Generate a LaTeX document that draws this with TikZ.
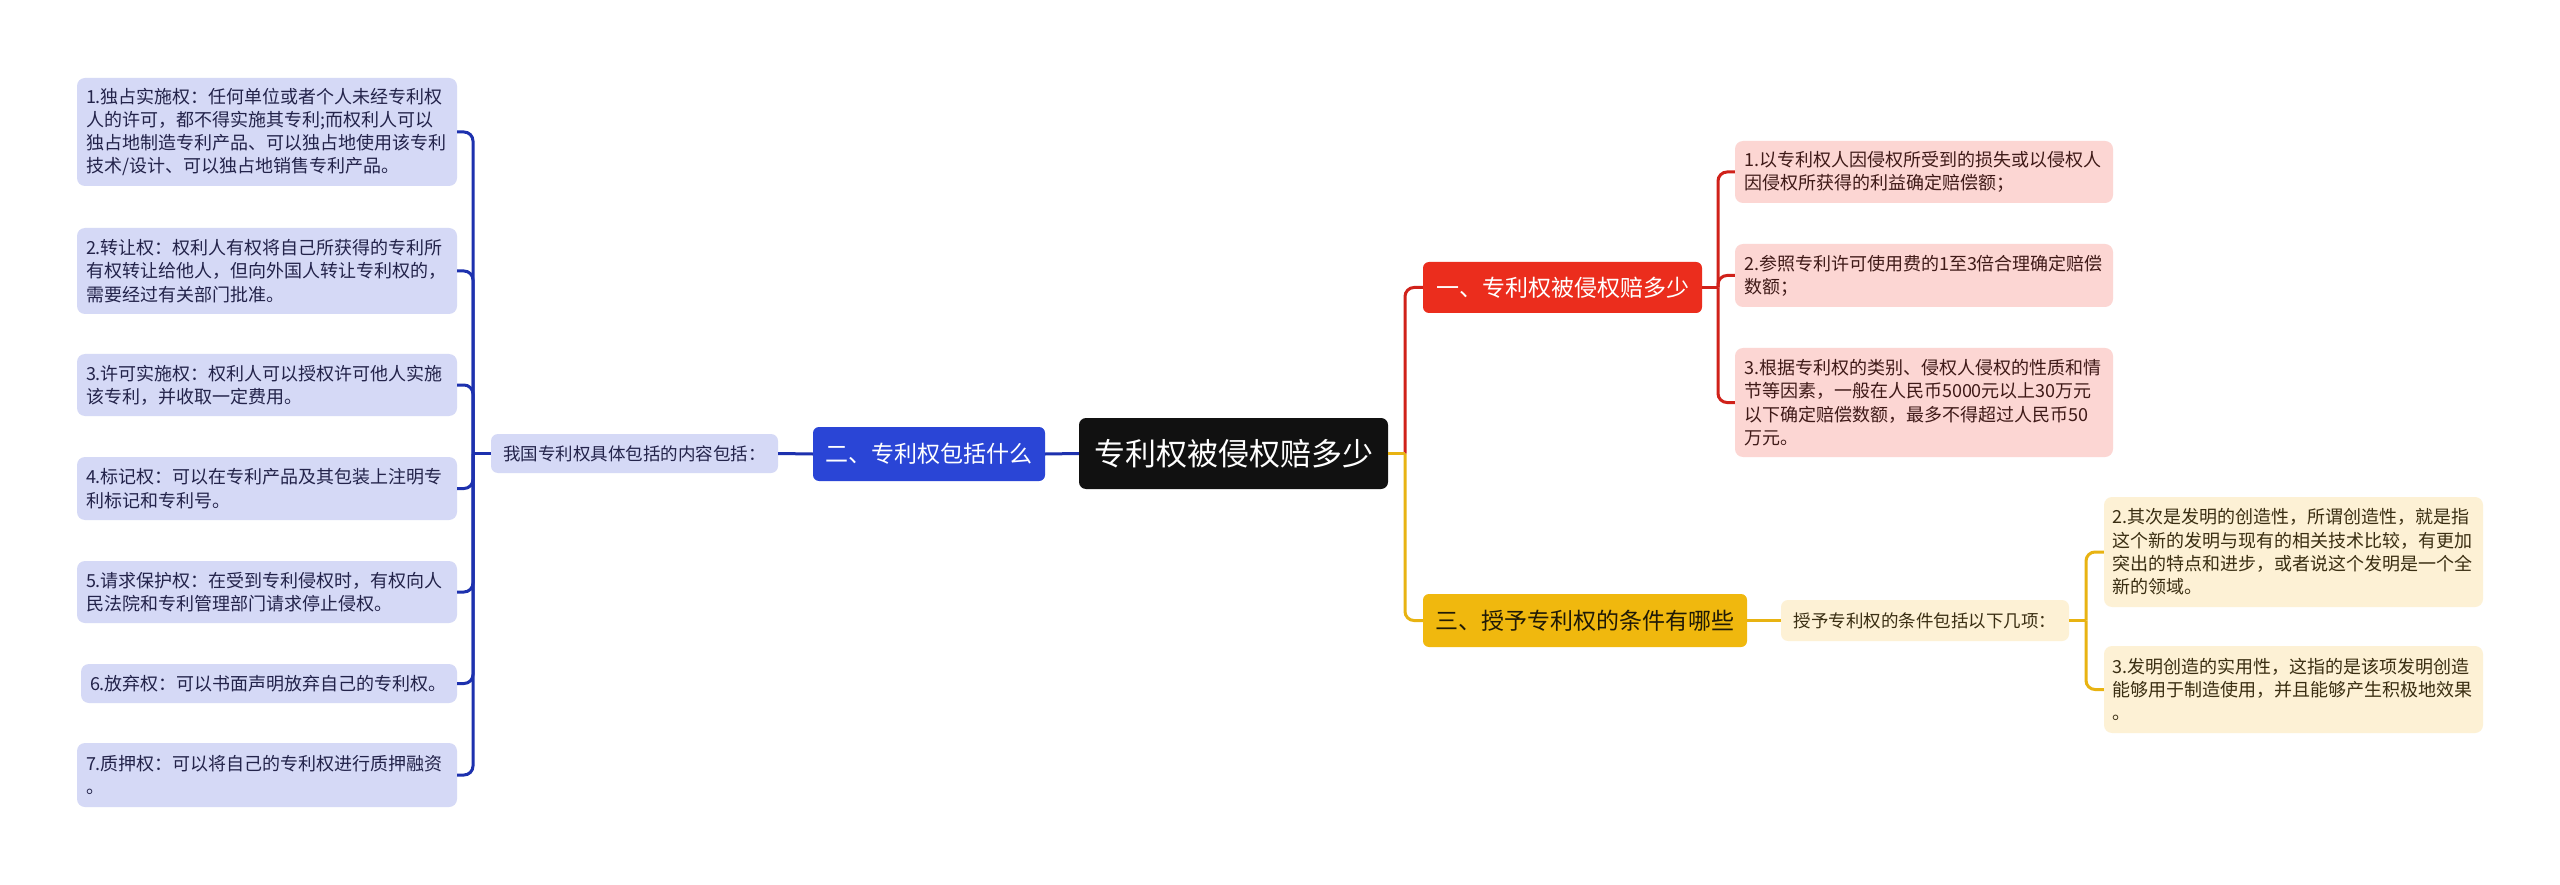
\documentclass[tikz,border=0pt]{standalone}
\usepackage{fontspec}
\setmainfont{Noto Sans CJK SC}
\definecolor{lavfill}{HTML}{D5D9F6}
\definecolor{lavtext}{HTML}{23234A}
\definecolor{pinkfill}{HTML}{FCD6D3}
\definecolor{pinktext}{HTML}{3F1A18}
\definecolor{creamfill}{HTML}{FDF1D5}
\definecolor{creamtext}{HTML}{3A2E12}
\definecolor{bluenode}{HTML}{2A45D6}
\definecolor{rednode}{HTML}{EB2D1D}
\definecolor{yelnode}{HTML}{F0B80E}
\definecolor{rootfill}{HTML}{111111}
\definecolor{blueline}{HTML}{1D31AE}
\definecolor{redline}{HTML}{D0211A}
\definecolor{yelline}{HTML}{E8B312}
\definecolor{yeltext}{HTML}{201A06}
\tikzset{
  leafbase/.style={draw=none, rounded corners=8pt, align=left, inner xsep=9pt, inner ysep=0pt,
    font=\fontsize{18}{23.3}\selectfont},
  leafL/.style={leafbase, fill=lavfill, text=lavtext},
  leafP/.style={leafbase, fill=pinkfill, text=pinktext},
  leafC/.style={leafbase, fill=creamfill, text=creamtext, inner xsep=8pt},
  midnode/.style={draw=none, rounded corners=7pt, inner sep=0pt, font=\fontsize{17.5}{21}\selectfont},
  topnode/.style={draw=none, rounded corners=6pt, inner sep=0pt, font=\fontsize{23}{27}\selectfont},
  rootnode/.style={draw=none, fill=rootfill, text=white, rounded corners=7pt, inner sep=0pt, font=\fontsize{31}{36}\selectfont},
  conn/.style={line width=3pt, rounded corners=9pt},
}
\begin{document}
\begin{tikzpicture}[x=1pt,y=-1pt]
\useasboundingbox[fill=white] (0,0) rectangle (2560,885);

% root and level 1
\node[rootnode, minimum width=309pt, minimum height=71pt] (root) at (1233.5,453.5) {专利权被侵权赔多少};
\node[topnode, fill=bluenode, text=white, minimum width=232pt, minimum height=54pt] (blue) at (929,454) {二、专利权包括什么};
\node[topnode, fill=rednode, text=white, minimum width=279pt, minimum height=51pt] (red) at (1562.5,287.5) {一、专利权被侵权赔多少};
\node[topnode, fill=yelnode, text=yeltext, minimum width=324pt, minimum height=53pt] (yel) at (1585,620.5) {三、授予专利权的条件有哪些};

% middle nodes
\node[midnode, fill=lavfill, text=lavtext, minimum width=287pt, minimum height=39pt] (mid) at (634.5,453.5) {我国专利权具体包括的内容包括：};
\node[midnode, fill=creamfill, text=creamtext, minimum width=288pt, minimum height=41pt] (mid2) at (1925,620.5) {授予专利权的条件包括以下几项：};

% left leaves
\node[leafL, text width=362pt, minimum height=108pt] (b1) at (267,132) {1.独占实施权：任何单位或者个人未经专利权\\人的许可，都不得实施其专利;而权利人可以\\独占地制造专利产品、可以独占地使用该专利\\技术/设计、可以独占地销售专利产品。};
\node[leafL, text width=362pt, minimum height=86pt] (b2) at (267,271) {2.转让权：权利人有权将自己所获得的专利所\\有权转让给他人，但向外国人转让专利权的，\\需要经过有关部门批准。};
\node[leafL, text width=362pt, minimum height=62pt] (b3) at (267,385) {3.许可实施权：权利人可以授权许可他人实施\\该专利，并收取一定费用。};
\node[leafL, text width=362pt, minimum height=63pt] (b4) at (267,488.5) {4.标记权：可以在专利产品及其包装上注明专\\利标记和专利号。};
\node[leafL, text width=362pt, minimum height=62pt] (b5) at (267,592) {5.请求保护权：在受到专利侵权时，有权向人\\民法院和专利管理部门请求停止侵权。};
\node[leafL, text width=358pt, minimum height=39pt] (b6) at (269,683.5) {6.放弃权：可以书面声明放弃自己的专利权。};
\node[leafL, text width=362pt, minimum height=64pt] (b7) at (267,775) {7.质押权：可以将自己的专利权进行质押融资\\。};

% pink leaves
\node[leafP, text width=360pt, minimum height=62pt] (p1) at (1924,172) {1.以专利权人因侵权所受到的损失或以侵权人\\因侵权所获得的利益确定赔偿额；};
\node[leafP, text width=360pt, minimum height=63pt] (p2) at (1924,275.5) {2.参照专利许可使用费的1至3倍合理确定赔偿\\数额；};
\node[leafP, text width=360pt, minimum height=109pt] (p3) at (1924,402.5) {3.根据专利权的类别、侵权人侵权的性质和情\\节等因素，一般在人民币5000元以上30万元\\以下确定赔偿数额，最多不得超过人民币50\\万元。};

% cream leaves
\node[leafC, text width=363pt, minimum height=110pt] (c1) at (2293.5,552) {2.其次是发明的创造性，所谓创造性，就是指\\这个新的发明与现有的相关技术比较，有更加\\突出的特点和进步，或者说这个发明是一个全\\新的领域。};
\node[leafC, text width=363pt, minimum height=87pt] (c2) at (2293.5,689.5) {3.发明创造的实用性，这指的是该项发明创造\\能够用于制造使用，并且能够产生积极地效果\\。};

% junction coordinates
\coordinate (lj) at (473,453.5);
\coordinate (rj) at (1405,453.5);
\coordinate (pj) at (1718,287.5);
\coordinate (cj) at (2086,620.5);

% blue connectors
\draw[conn, blueline] (root.west) -- (blue.east);
\draw[conn, blueline] (blue.west) -- (mid.east);
\draw[conn, blueline] (mid.west) -- (lj);
\foreach \b in {b1,b2,b3,b4,b5,b6,b7}{
  \draw[conn, blueline] (lj) |- (\b.east);
}

% red connectors
\draw[conn, redline] (rj) |- (red.west);
\draw[conn, redline] (red.east) -- (pj);
\foreach \p in {p1,p2,p3}{
  \draw[conn, redline] (pj) |- (\p.west);
}

% yellow connectors
\draw[conn, yelline] (rj) |- (yel.west);
\draw[conn, yelline] (root.east) -- (rj);
\draw[conn, yelline] (yel.east) -- (mid2.west);
\draw[conn, yelline] (mid2.east) -- (cj);
\foreach \c in {c1,c2}{
  \draw[conn, yelline] (cj) |- (\c.west);
}
\end{tikzpicture}
\end{document}
